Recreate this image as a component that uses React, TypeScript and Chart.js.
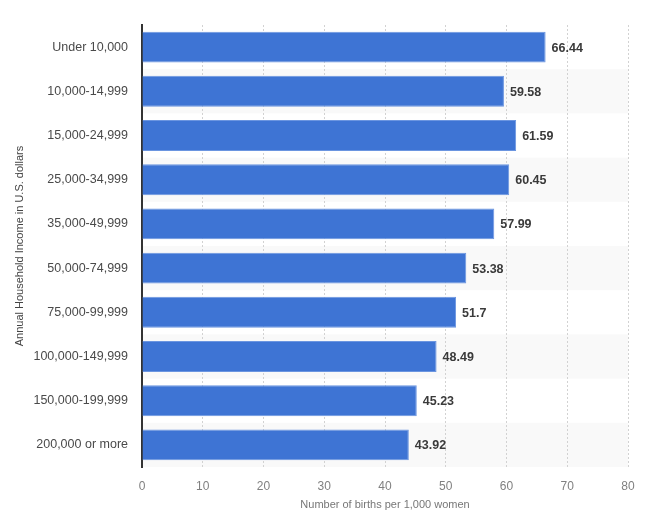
import React, { useRef, useEffect } from 'react';
import { Chart, registerables, Plugin } from 'chart.js';

Chart.register(...registerables);

const incomeGroups = [
  'Under 10,000',
  '10,000-14,999',
  '15,000-24,999',
  '25,000-34,999',
  '35,000-49,999',
  '50,000-74,999',
  '75,000-99,999',
  '100,000-149,999',
  '150,000-199,999',
  '200,000 or more',
];
const birthRates = [66.44, 59.58, 61.59, 60.45, 57.99, 53.38, 51.7, 48.49, 45.23, 43.92];

const FONT = "'Liberation Sans', Arial, Helvetica, sans-serif";

// zebra stripes behind every second row
const stripes: Plugin<'bar'> = {
  id: 'stripes',
  beforeDraw(chart) {
    const { ctx, chartArea, scales } = chart;
    const y = scales.y;
    const step = (chartArea.bottom - chartArea.top) / incomeGroups.length;
    ctx.save();
    ctx.fillStyle = '#f9f9f9';
    incomeGroups.forEach((_, i) => {
      if (i % 2 === 1) {
        const cy = y.getPixelForValue(i);
        ctx.fillRect(chartArea.left, cy - step / 2, chartArea.right - chartArea.left, step);
      }
    });
    ctx.restore();
  },
};

// value labels at the end of the bars
const valueLabels: Plugin<'bar'> = {
  id: 'valueLabels',
  afterDatasetsDraw(chart) {
    const { ctx } = chart;
    const meta = chart.getDatasetMeta(0);
    ctx.save();
    ctx.font = `bold 12.5px ${FONT}`;
    ctx.fillStyle = '#3a3a3a';
    ctx.textBaseline = 'middle';
    ctx.textAlign = 'left';
    meta.data.forEach((bar, i) => {
      ctx.fillText(String(birthRates[i]), bar.x + 6, bar.y + 1);
    });
    ctx.restore();
  },
};

const BirthChart: React.FC = () => {
  const chartRef = useRef<HTMLCanvasElement>(null);
  const chartInstance = useRef<Chart | null>(null);

  useEffect(() => {
    document.body.style.margin = '0';
    if (!chartRef.current) return;
    if (chartInstance.current) chartInstance.current.destroy();

    chartInstance.current = new Chart(chartRef.current, {
      type: 'bar',
      data: {
        labels: incomeGroups,
        datasets: [
          {
            data: birthRates,
            backgroundColor: '#3e74d4',
            borderColor: '#6b95e0',
            borderWidth: 1,
            barPercentage: 0.7,
            categoryPercentage: 1,
          },
        ],
      },
      options: {
        indexAxis: 'y',
        animation: false,
        responsive: true,
        maintainAspectRatio: false,
        layout: { padding: { top: 25, right: 22, left: 10, bottom: 18 } },
        plugins: {
          legend: { display: false },
          tooltip: { enabled: false },
        },
        scales: {
          x: {
            min: 0,
            max: 80,
            afterFit(scale) {
              scale.height = 46;
            },
            ticks: {
              stepSize: 10,
              color: '#808080',
              padding: 12,
              font: { family: FONT, size: 12 },
            },
            grid: {
              color: '#d2d2d2',
              drawTicks: false,
              lineWidth: 1,
            },
            border: { display: false, dash: [2, 2] },
            title: {
              display: true,
              text: 'Number of births per 1,000 women',
              color: '#777777',
              font: { family: FONT, size: 11 },
              padding: { top: 0, bottom: 1 },
            },
          },
          y: {
            afterFit(scale) {
              scale.width = 132;
            },
            ticks: {
              color: '#4a4a4a',
              padding: 14,
              font: { family: FONT, size: 12.5 },
            },
            grid: { display: false, drawTicks: false },
            border: { display: true, color: '#333333', width: 2 },
            title: {
              display: true,
              text: 'Annual Household Income in U.S. dollars',
              color: '#444444',
              font: { family: FONT, size: 11 },
              padding: { top: 3, bottom: 0 },
            },
          },
        },
      },
      plugins: [stripes, valueLabels],
    });

    return () => {
      if (chartInstance.current) {
        chartInstance.current.destroy();
        chartInstance.current = null;
      }
    };
  }, []);

  return (
    <div style={{ width: '650px', height: '531px', position: 'relative' }}>
      <canvas ref={chartRef} />
    </div>
  );
};

export default function App() {
  return <BirthChart />;
}
